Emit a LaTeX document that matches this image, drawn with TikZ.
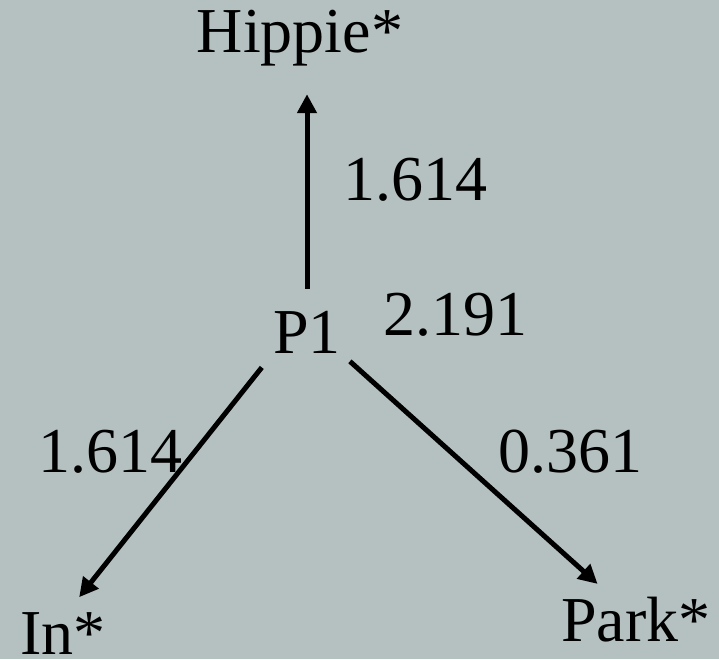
\documentclass[tikz,border=0pt]{standalone}
\usepackage{fontspec}
\setmainfont{Liberation Serif}
\usetikzlibrary{arrows.meta}
\definecolor{slatebg}{RGB}{181,193,193}
\begin{document}
\begin{tikzpicture}[
  x=1pt, y=-1pt,
  word/.style={
    inner sep=0pt,
    font=\fontsize{64}{70}\selectfont
  },
  weight/.style={
    inner sep=0pt,
    font=\fontsize{64}{70}\selectfont
  },
  arrow/.style={-{Triangle[length=19pt,width=19pt]}, line width=5pt}
]
\fill[slatebg] (0,0) rectangle (719,659);
\useasboundingbox (0,0) rectangle (719,659);

\node[word] (p1) at (307,332) {P1};
\node[word] (hippie) at (300,38) {Hippie*};
\node[word] (in) at (63,634) {In*};
\node[word] (park) at (636,620) {Park*};

\node[weight] (wup) at (415,180) {1.614};
\node[weight] (wall) at (455,315) {2.191};
\node[weight] (win) at (110,452) {1.614};
\node[weight] (wpark) at (570,452) {0.361};

\draw[arrow, shorten <=22pt, shorten >=28pt] (p1.north) -- (p1.north |- hippie.south);
\draw[arrow, shorten <=18pt, shorten >=20pt] (p1.south west) -- (in.80);
\draw[arrow, shorten <=12pt, shorten >=20pt] (p1.south east) -- (park.136);
\end{tikzpicture}
\end{document}
